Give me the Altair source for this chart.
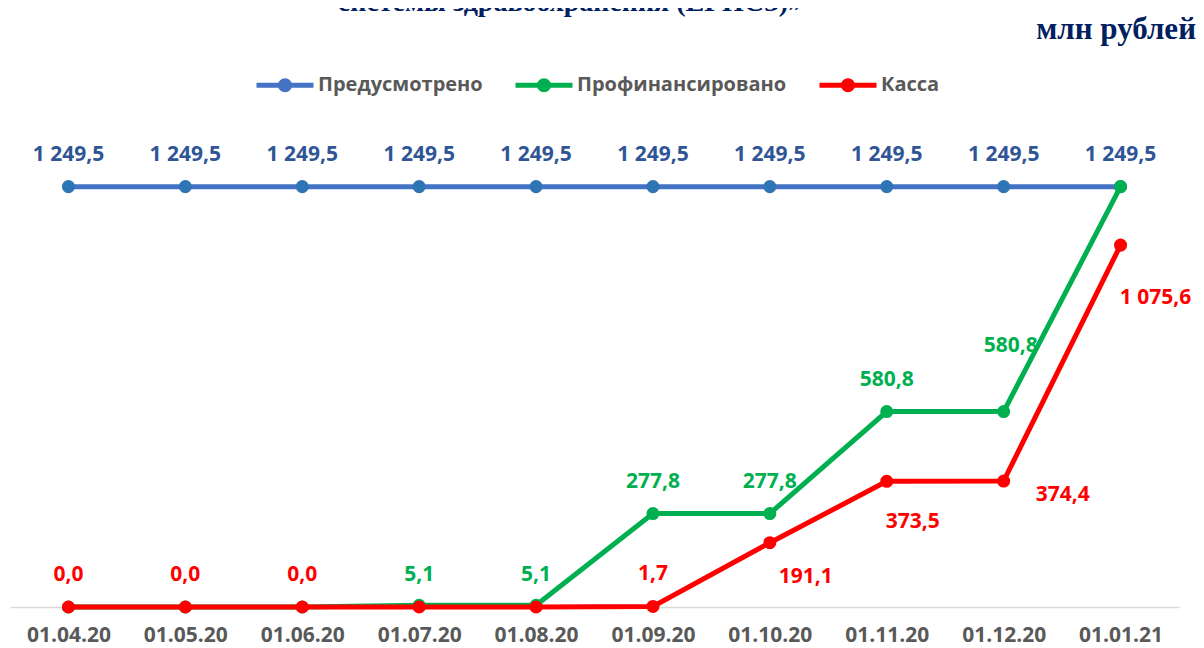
import altair as alt
import pandas as pd

dates = ["01.04.20", "01.05.20", "01.06.20", "01.07.20", "01.08.20",
         "01.09.20", "01.10.20", "01.11.20", "01.12.20", "01.01.21"]
series_names = ["Предусмотрено", "Профинансировано", "Касса"]
planned = [1249.5, 1249.5, 1249.5, 1249.5, 1249.5, 1249.5, 1249.5, 1249.5, 1249.5, 1249.5]
financed = [0.0, 0.0, 0.0, 5.1, 5.1, 277.8, 277.8, 580.8, 580.8, 1249.5]
cash = [0.0, 0.0, 0.0, 0.0, 0.0, 1.7, 191.1, 373.5, 374.4, 1075.6]

title_text = "системы здравоохранения (ЕГИСЗ)»"
unit_text = "млн рублей"

line_colors = ["#4472C4", "#00B050", "#FF0000"]
point_colors = ["#2E75B6", "#00B050", "#FF0000"]
label_colors = ["#2F5597", "#00B050", "#FF0000"]


def fmt(v):
    return f"{v:,.1f}".replace(",", " ").replace(".", ",")


rows = []
for name, vals in zip(series_names, [planned, financed, cash]):
    for d, v in zip(dates, vals):
        rows.append({"date": d, "series": name, "value": v,
                     "label": fmt(v), "key": f"{name}|{d}"})
df = pd.DataFrame(rows)

P, F, K = series_names
placements = {
    (0, -32): [(P, d) for d in dates] + [(F, d) for d in dates[5:8]]
              + [(K, d) for d in dates[0:3]] + [(K, "01.09.20")],
    (0, -30): [(F, "01.07.20"), (F, "01.08.20")],
    (7, -66): [(F, "01.12.20")],
    (36, 34): [(K, "01.10.20")],
    (26, 41): [(K, "01.11.20")],
    (59, 14): [(K, "01.12.20")],
    (35, 53): [(K, "01.01.21")],
}

FONT = "Open Sans"

x_enc = alt.X("date:O", sort=dates,
              scale=alt.Scale(type="point", padding=0.5),
              axis=alt.Axis(title=None, labelAngle=0, ticks=False, grid=False,
                            domainColor="#D9D9D9", domainWidth=1.5,
                            labelFont=FONT, labelFontWeight="bold",
                            labelFontSize=21, labelColor="#595959",
                            labelPadding=17))
y_enc = alt.Y("value:Q", scale=alt.Scale(domain=[0, 1400]), axis=None)

legend_symbol = "M-1,0H1M0.16,0A0.16,0.16,0,1,1,-0.16,0A0.16,0.16,0,1,1,0.16,0Z"
legend = alt.Legend(orient="none", legendX=244, legendY=-82,
                    direction="horizontal", title=None,
                    symbolType=legend_symbol, symbolSize=3249,
                    symbolStrokeWidth=5,
                    labelFont=FONT, labelFontWeight="bold", labelFontSize=20,
                    labelColor="#595959", columnPadding=22, labelOffset=2,
                    labelLimit=400)

color_enc = alt.Color("series:N", scale=alt.Scale(domain=series_names, range=line_colors),
                      legend=legend)
fill_pt = alt.Fill("series:N", scale=alt.Scale(domain=series_names, range=point_colors),
                   legend=None)

base = alt.Chart(df)
layers = []
for name in series_names:
    sub = base.transform_filter(alt.datum.series == name)
    layers.append(sub.mark_line(strokeWidth=5).encode(x=x_enc, y=y_enc, color=color_enc))
    layers.append(sub.mark_point(filled=True, size=170, opacity=1, shape="circle")
                  .encode(x=x_enc, y=y_enc, fill=fill_pt))

text_fill = alt.Fill("series:N", scale=alt.Scale(domain=series_names, range=label_colors),
                     legend=None)
for (dx, dy), keys in placements.items():
    keylist = [f"{s}|{d}" for s, d in keys]
    layers.append(
        base.transform_filter(alt.FieldOneOfPredicate(field="key", oneOf=keylist))
        .mark_text(dx=dx, dy=dy, font=FONT, fontWeight="bold", fontSize=21,
                   baseline="middle", align="center")
        .encode(x=x_enc, y=y_enc, text="label:N", fill=text_fill)
    )

title_layer = alt.Chart(pd.DataFrame({"t": [title_text]})).mark_text(
    font="Liberation Serif", fontWeight="bold", fontSize=28, color="#002060",
    align="center", baseline="alphabetic"
).encode(text="t:N", x=alt.value(560), y=alt.value(-125))

unit_layer = alt.Chart(pd.DataFrame({"t": [unit_text]})).mark_text(
    font="Liberation Serif", fontWeight="bold", fontSize=31, color="#002060",
    align="right", baseline="middle"
).encode(text="t:N", x=alt.value(1186), y=alt.value(-106))

chart = alt.layer(*layers, title_layer, unit_layer).resolve_scale(
    fill="independent"
).properties(
    width=1169, height=471,
    autosize=alt.AutoSizeParams(type="none"),
    padding={"left": 2, "top": 128, "right": 17, "bottom": 41},
).configure_view(stroke=None)

chart.save("out.html", embed_options={"renderer": "svg", "actions": False})
